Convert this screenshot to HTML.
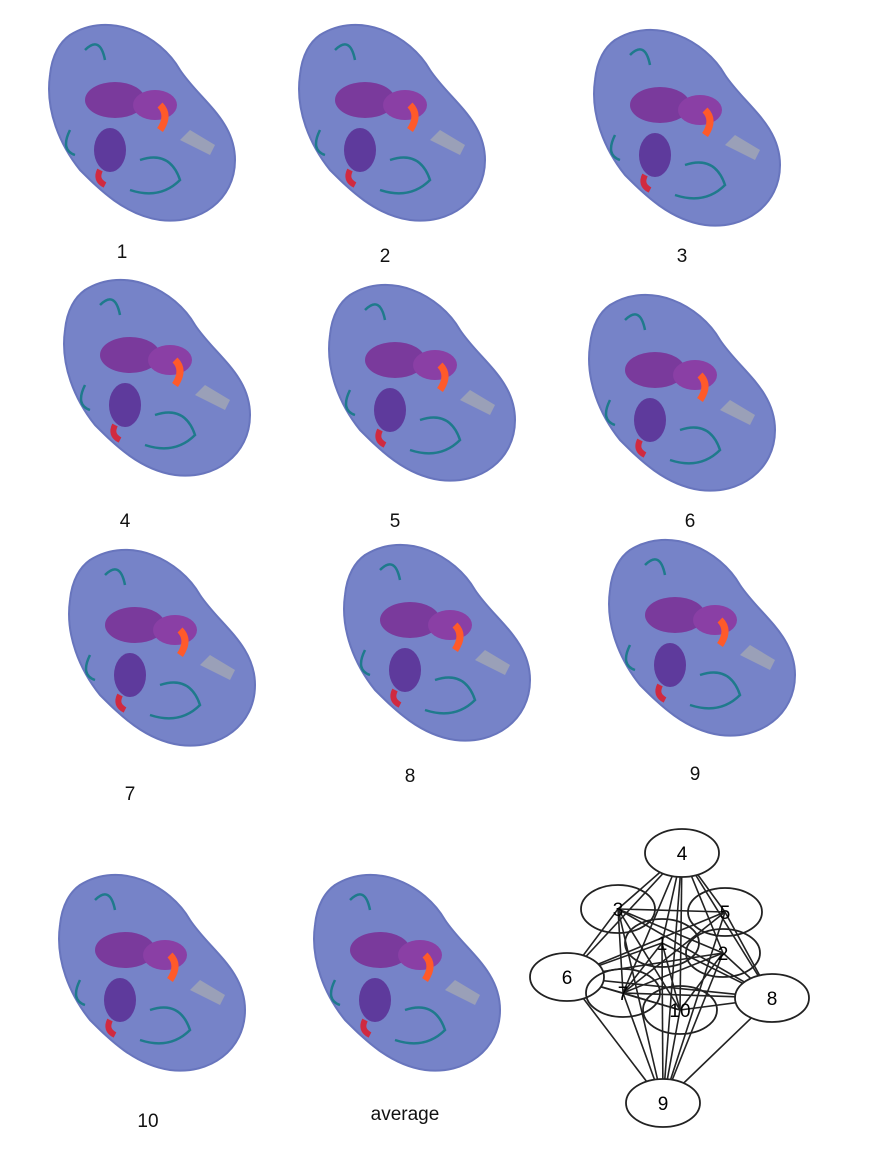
<!DOCTYPE html>
<html><head><meta charset="utf-8"><style>
body{margin:0;background:#fff;width:874px;height:1150px;overflow:hidden;font-family:"Liberation Sans",sans-serif}
svg{display:block}
</style></head><body>
<svg width="874" height="1150" viewBox="0 0 874 1150">
<defs>
<g id="prot">
<path d="M-70,-95 C-30,-120 20,-95 40,-60 C60,-30 95,-10 95,30 C95,70 60,95 20,90 C-15,85 -40,60 -60,40 C-80,15 -95,-20 -90,-55 C-88,-75 -80,-88 -70,-95 Z" fill="#7683c8" stroke="#6875bd" stroke-width="2"/>
<ellipse cx="-25" cy="-30" rx="30" ry="18" fill="#7a3a9c"/>
<ellipse cx="15" cy="-25" rx="22" ry="15" fill="#8a3fa5"/>
<ellipse cx="-30" cy="20" rx="16" ry="22" fill="#5e3a9c"/>
<path d="M50,0 L75,15 L70,25 L40,10 Z" fill="#9aa0b8"/>
<path d="M20,-25 q10,10 0,25" stroke="#ff5a2a" stroke-width="7" fill="none"/>
<path d="M-40,40 q-5,10 5,15" stroke="#d02a40" stroke-width="6" fill="none"/>
<path d="M-55,-80 q15,-15 20,10 M0,30 q30,-10 40,20 q-20,20 -50,10 M-70,0 q-10,20 5,25" stroke="#1f7a8c" stroke-width="2.5" fill="none"/>
</g>
</defs>
<g font-size="19" fill="#111">
<use href="#prot" x="140" y="130"/>
<use href="#prot" x="390" y="130"/>
<use href="#prot" x="685" y="135"/>
<use href="#prot" x="155" y="385"/>
<use href="#prot" x="420" y="390"/>
<use href="#prot" x="680" y="400"/>
<use href="#prot" x="160" y="655"/>
<use href="#prot" x="435" y="650"/>
<use href="#prot" x="700" y="645"/>
<use href="#prot" x="150" y="980"/>
<use href="#prot" x="405" y="980"/>
<text x="122" y="258" text-anchor="middle">1</text>
<text x="385" y="262" text-anchor="middle">2</text>
<text x="682" y="262" text-anchor="middle">3</text>
<text x="125" y="527" text-anchor="middle">4</text>
<text x="395" y="527" text-anchor="middle">5</text>
<text x="690" y="527" text-anchor="middle">6</text>
<text x="130" y="800" text-anchor="middle">7</text>
<text x="410" y="782" text-anchor="middle">8</text>
<text x="695" y="780" text-anchor="middle">9</text>
<text x="148" y="1127" text-anchor="middle">10</text>
<text x="405" y="1120" text-anchor="middle">average</text>
</g>
<g id="graph"></g>
</svg>
<script>
const nodeIds=["4","3","5","1","2","6","7","10","8","9"];
const nodeX=[682,618,725,662,723,567,623,680,772,663];
const nodeY=[853,909,912,943,953,977,993,1010,998,1103];
const edges=[["4","6"],["4","1"],["4","2"],["4","7"],["4","10"],["4","8"],["4","9"],["3","6"],["3","8"],["3","9"],["3","10"],["3","2"],["3","7"],["5","6"],["5","9"],["5","8"],["5","7"],["5","3"],["1","6"],["1","9"],["1","8"],["1","7"],["2","6"],["2","7"],["2","9"],["2","8"],["6","8"],["6","9"],["6","10"],["6","7"],["7","8"],["7","9"],["7","10"],["10","9"],["10","8"],["8","9"],["1","10"],["2","10"],["4","5"],["4","3"]];
const NS="http://www.w3.org/2000/svg";
const g=document.getElementById('graph');
const idx=id=>nodeIds.indexOf(id);
edges.forEach(e=>{const a=idx(e[0]),b=idx(e[1]);
const l=document.createElementNS(NS,'line');
l.setAttribute('x1',nodeX[a]);l.setAttribute('y1',nodeY[a]);l.setAttribute('x2',nodeX[b]);l.setAttribute('y2',nodeY[b]);
l.setAttribute('stroke','#222');l.setAttribute('stroke-width','1.6');


g.appendChild(l);});
nodeIds.forEach((id,i)=>{
const el=document.createElementNS(NS,'ellipse');
el.setAttribute('cx',nodeX[i]);el.setAttribute('cy',nodeY[i]);el.setAttribute('rx',37);el.setAttribute('ry',24);
el.setAttribute('fill',(id==='4'||id==='9'||id==='8'||id==='6')?'#fff':'none');el.setAttribute('stroke','#222');el.setAttribute('stroke-width','1.8');


g.appendChild(el);
const t=document.createElementNS(NS,'text');
t.setAttribute('x',nodeX[i]);t.setAttribute('y',nodeY[i]+7);t.setAttribute('text-anchor','middle');t.setAttribute('font-size','19');
t.textContent=id;


g.appendChild(t);});
</script>
</body></html>
